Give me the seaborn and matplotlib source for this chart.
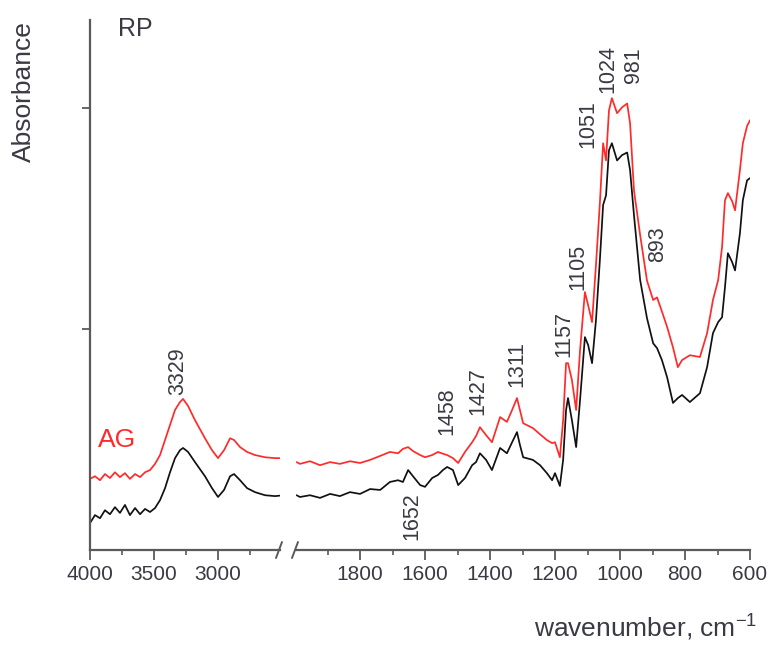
import numpy as np
import pandas as pd
import matplotlib
matplotlib.use("Agg")
import matplotlib.pyplot as plt
from matplotlib.lines import Line2D
from matplotlib.ticker import MultipleLocator, NullFormatter
import seaborn as sns

# ---- FTIR spectra (absorbance, arbitrary units) ----
# high-wavenumber window, 4000-2520 cm-1
wn_hi = [4000, 3961, 3922, 3883, 3844, 3805, 3766, 3727, 3688, 3648, 3609, 3570,
         3531, 3492, 3453, 3414, 3375, 3336, 3297, 3273, 3234, 3180, 3102, 3047,
         3000, 2953, 2906, 2875, 2828, 2773, 2711, 2633, 2555, 2520]
rp_hi = [0.061, 0.079, 0.072, 0.090, 0.081, 0.097, 0.084, 0.102, 0.079, 0.095, 0.081, 0.093,
         0.086, 0.095, 0.113, 0.140, 0.176, 0.208, 0.226, 0.231, 0.222, 0.199, 0.167, 0.140,
         0.120, 0.136, 0.167, 0.172, 0.158, 0.140, 0.131, 0.124, 0.122, 0.123]
ag_hi = [0.161, 0.167, 0.158, 0.172, 0.163, 0.176, 0.165, 0.174, 0.161, 0.172, 0.165, 0.176,
         0.181, 0.195, 0.215, 0.249, 0.283, 0.317, 0.335, 0.342, 0.326, 0.294, 0.253, 0.226,
         0.208, 0.226, 0.253, 0.249, 0.233, 0.222, 0.215, 0.210, 0.208, 0.208]

# fingerprint window, 1995-600 cm-1
wn_lo = [1995, 1985, 1954, 1923, 1892, 1862, 1831, 1800, 1769, 1738, 1708, 1683,
         1668, 1652, 1637, 1615, 1600, 1578, 1560, 1545, 1532, 1514, 1498, 1477,
         1455, 1443, 1431, 1412, 1394, 1369, 1348, 1332, 1317, 1308, 1298, 1268,
         1246, 1225, 1209, 1200, 1185, 1175, 1166, 1160, 1148, 1135, 1123, 1108,
         1098, 1086, 1074, 1062, 1052, 1043, 1034, 1025, 1009, 994, 978, 969,
         957, 938, 917, 898, 886, 871, 855, 837, 822, 809, 785, 754,
         732, 714, 698, 686, 677, 668, 655, 646, 631, 622, 609, 600]
rp_lo = [0.124, 0.120, 0.124, 0.118, 0.127, 0.122, 0.131, 0.127, 0.138, 0.136, 0.154, 0.158,
         0.154, 0.181, 0.167, 0.147, 0.143, 0.163, 0.170, 0.181, 0.188, 0.181, 0.147, 0.163,
         0.192, 0.199, 0.219, 0.204, 0.181, 0.231, 0.219, 0.244, 0.267, 0.238, 0.210, 0.204,
         0.192, 0.174, 0.158, 0.174, 0.145, 0.204, 0.317, 0.344, 0.294, 0.233, 0.339, 0.482,
         0.464, 0.423, 0.520, 0.656, 0.781, 0.803, 0.905, 0.921, 0.882, 0.894, 0.900, 0.860,
         0.758, 0.611, 0.525, 0.468, 0.457, 0.430, 0.391, 0.333, 0.344, 0.351, 0.335, 0.355,
         0.414, 0.491, 0.516, 0.527, 0.595, 0.672, 0.652, 0.633, 0.717, 0.792, 0.837, 0.842]
ag_lo = [0.199, 0.195, 0.201, 0.192, 0.199, 0.195, 0.201, 0.197, 0.204, 0.213, 0.222, 0.219,
         0.229, 0.233, 0.224, 0.215, 0.210, 0.215, 0.222, 0.218, 0.215, 0.208, 0.197, 0.222,
         0.244, 0.258, 0.278, 0.260, 0.244, 0.301, 0.290, 0.317, 0.344, 0.317, 0.287, 0.276,
         0.262, 0.249, 0.242, 0.244, 0.210, 0.294, 0.423, 0.423, 0.385, 0.317, 0.452, 0.584,
         0.554, 0.516, 0.645, 0.785, 0.921, 0.882, 0.995, 1.023, 0.989, 1.002, 1.011, 0.966,
         0.814, 0.713, 0.610, 0.566, 0.572, 0.540, 0.505, 0.459, 0.414, 0.430, 0.441, 0.437,
         0.491, 0.566, 0.611, 0.686, 0.792, 0.808, 0.790, 0.769, 0.860, 0.921, 0.960, 0.973]

# band assignments: (label, x position, y position of label base)
bands_hi = [("3329", 3313, 0.351)]
bands_lo = [("1458", 1532, 0.260), ("1427", 1437, 0.305), ("1311", 1317, 0.369),
            ("1157", 1172, 0.437), ("1105", 1129, 0.588), ("1051", 1098, 0.910),
            ("1024", 1037, 1.034), ("981", 957, 1.057), ("893", 883, 0.652)]
band_below = ("1652", 1640, 0.131)

# ---- style ----
sns.set_style("white")
plt.rcParams["font.family"] = ["Liberation Sans", "DejaVu Sans"]
plt.rcParams["mathtext.fontset"] = "custom"
plt.rcParams["mathtext.rm"] = "Liberation Sans"
plt.rcParams["mathtext.default"] = "regular"

TXT = "#3a3a44"
AX = "#5a5a5a"
BLACK = "#111111"
RED = "#ff2a2a"

W, H = 771, 645
fig = plt.figure(figsize=(W / 100, H / 100), dpi=100)

def fx(px):
    return px / W

def fy(py):
    return 1 - py / H

bottom_px, top_px = 550, 20
ax_hi = fig.add_axes([fx(90), fy(bottom_px), fx(280) - fx(90), (bottom_px - top_px) / H])
ax_lo = fig.add_axes([fx(296), fy(bottom_px), fx(750) - fx(296), (bottom_px - top_px) / H])

df_hi = pd.DataFrame({"wn": wn_hi * 2, "A": rp_hi + ag_hi,
                      "sample": ["RP"] * len(wn_hi) + ["AG"] * len(wn_hi)})
df_lo = pd.DataFrame({"wn": wn_lo * 2, "A": rp_lo + ag_lo,
                      "sample": ["RP"] * len(wn_lo) + ["AG"] * len(wn_lo)})
pal = {"RP": BLACK, "AG": RED}

for ax, df in ((ax_hi, df_hi), (ax_lo, df_lo)):
    sns.lineplot(data=df, x="wn", y="A", hue="sample", palette=pal, sort=False,
                 estimator=None, linewidth=1.25, legend=False, ax=ax)
    ax.set_ylim(0, 1.2)
    ax.set_xlabel("")
    ax.set_ylabel("")
    for s in ("top", "right"):
        ax.spines[s].set_visible(False)
    ax.spines["bottom"].set_color(AX)
    ax.spines["bottom"].set_linewidth(1.6)
    ax.tick_params(axis="x", which="both", bottom=True, top=False)
    ax.tick_params(axis="x", which="major", direction="out", length=7, width=1.3,
                   color=AX, labelsize=15, labelcolor=TXT, pad=4)
    ax.tick_params(axis="x", which="minor", direction="out", length=3.5, width=1.2, color=AX)
    ax.patch.set_alpha(0)

ax_hi.set_xlim(4000, 2516)
ax_hi.xaxis.set_major_locator(MultipleLocator(500))
ax_hi.xaxis.set_minor_locator(MultipleLocator(250))
ax_hi.spines["left"].set_color(AX)
ax_hi.spines["left"].set_linewidth(1.6)
ax_hi.set_yticks([0.5, 1.0])
ax_hi.yaxis.set_major_formatter(NullFormatter())
ax_hi.tick_params(axis="y", which="major", left=True, direction="out", length=6,
                  width=1.3, color=AX)

ax_lo.set_xlim(1997, 600)
ax_lo.set_xticks([1800, 1600, 1400, 1200, 1000, 800, 600])
ax_lo.xaxis.set_minor_locator(MultipleLocator(100))
ax_lo.spines["left"].set_visible(False)
ax_lo.set_yticks([])

# band labels
for lab, x, y in bands_hi:
    ax_hi.text(x, y, lab, rotation=90, ha="center", va="bottom", fontsize=15.5, color=TXT)
for lab, x, y in bands_lo:
    ax_lo.text(x, y, lab, rotation=90, ha="center", va="bottom", fontsize=15.5, color=TXT)
lab, x, y = band_below
ax_lo.text(x, y, lab, rotation=90, ha="center", va="top", fontsize=15.5, color=TXT)

# axis break marks
for cx in (279, 295):
    fig.add_artist(Line2D([fx(cx - 3), fx(cx + 3)], [fy(bottom_px + 8), fy(bottom_px - 8)],
                          color=AX, linewidth=1.4))

# titles and axis labels
fig.text(fx(118), fy(29), "RP", ha="left", va="center", fontsize=18, color=TXT)
fig.text(fx(98), fy(440), "AG", ha="left", va="center", fontsize=19, color=RED)
fig.text(fx(24), fy(92), "Absorbance", rotation=90, ha="center", va="center",
         fontsize=19, color=TXT)
fig.text(fx(757), fy(628), "wavenumber, cm$^{-1}$", ha="right", va="center",
         fontsize=19, color=TXT)

fig.savefig("out.png", dpi=100)
